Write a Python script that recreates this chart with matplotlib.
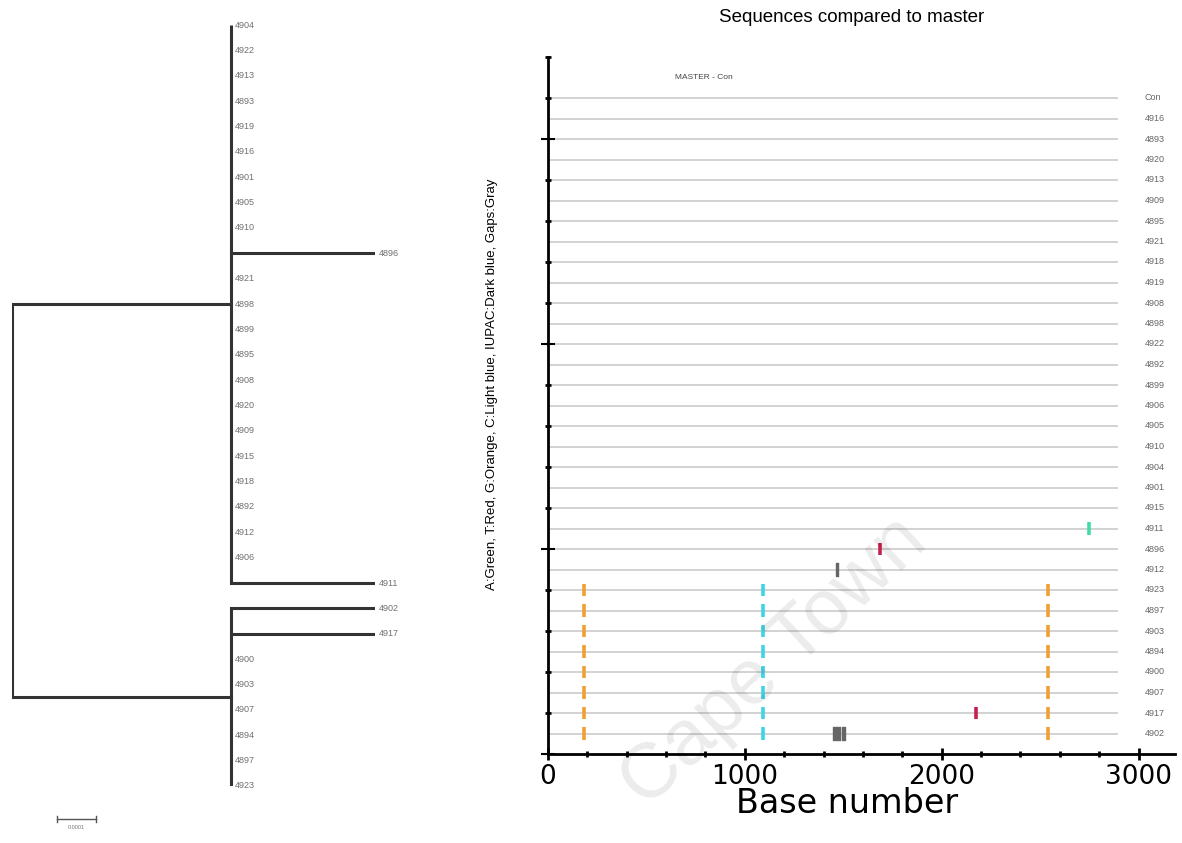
import matplotlib
matplotlib.use("Agg")
import matplotlib.pyplot as plt
from matplotlib.ticker import MultipleLocator

plt.rcParams['font.family'] = ['Liberation Sans', 'DejaVu Sans']

# dendrogram (leaf order top -> bottom)
tree_leaves = ['4904', '4922', '4913', '4893', '4919', '4916', '4901', '4905', '4910',
               '4896', '4921', '4898', '4899', '4895', '4908', '4920', '4909', '4915',
               '4918', '4892', '4912', '4906', '4911',
               '4902', '4917', '4900', '4903', '4907', '4894', '4897', '4923']
leaf_branch = [0, 0, 0, 0, 0, 0, 0, 0, 0,
               0.00037, 0, 0, 0, 0, 0, 0, 0, 0,
               0, 0, 0, 0, 0.00037,
               0.00037, 0.00037, 0, 0, 0, 0, 0, 0]
cluster_sizes = [23, 8]
node_depth = 0.00056
scale_len = 0.0001

# alignment rows (top -> bottom)
seq_names = ['Con', '4916', '4893', '4920', '4913', '4909', '4895', '4921', '4918', '4919',
             '4908', '4898', '4922', '4892', '4899', '4906', '4905', '4910', '4904', '4901',
             '4915', '4911', '4896', '4912', '4923', '4897', '4903', '4894', '4900', '4907',
             '4917', '4902']
seq_len = 2890
group_b = ['4923', '4897', '4903', '4894', '4900', '4907', '4917', '4902']

# differences: sequence, start, end, type
mut_seq = group_b * 3 + ['4917', '4911', '4896', '4912', '4902', '4902']
mut_start = [183] * 8 + [1093] * 8 + [2542] * 8 + [2176, 2750, 1688, 1465, 1449, 1495]
mut_end = [183] * 8 + [1093] * 8 + [2542] * 8 + [2176, 2750, 1688, 1475, 1485, 1509]
mut_type = ['G'] * 8 + ['C'] * 8 + ['G'] * 8 + ['T', 'A', 'T', 'Gap', 'Gap', 'Gap']

base_colors = {'A': '#3fdcaa', 'T': '#c8204e', 'G': '#f0a035', 'C': '#3fd4e6',
               'IUPAC': '#1a2a8a', 'Gap': '#666666'}

fig = plt.figure(figsize=(11.82, 8.43), dpi=100)

# ---- left: tree ----
axt = fig.add_axes([12 / 1182, 57 / 843, 363 / 1182, 761 / 843])
axt.set_xlim(0, node_depth + 0.00037)
axt.set_ylim(len(tree_leaves) - 1, 0)
axt.axis('off')
lc = '#333333'
lw = 2.2
mids = []
start = 0
for n in cluster_sizes:
    end = start + n - 1
    mid = (start + end) / 2
    mids.append(mid)
    axt.plot([node_depth, node_depth], [start, end], color=lc, lw=lw, solid_capstyle='butt')
    axt.plot([0, node_depth], [mid, mid], color=lc, lw=lw)
    start = end + 1
axt.plot([0, 0], [mids[0], mids[-1]], color=lc, lw=lw, solid_capstyle='butt')
for i, (name, b) in enumerate(zip(tree_leaves, leaf_branch)):
    if b > 0:
        axt.plot([node_depth, node_depth + b], [i, i], color=lc, lw=lw)
    axt.annotate(name, (node_depth + b, i), xytext=(3, 0), textcoords='offset points',
                 fontsize=6.5, color='#707070', va='center', ha='left', annotation_clip=False)
# scale bar
sb_y = len(tree_leaves) - 1 + 1.3
axt.plot([0.000115, 0.000115 + scale_len], [sb_y, sb_y], color='#555555', lw=1, clip_on=False)
axt.plot([0.000115, 0.000115], [sb_y - 0.1, sb_y + 0.1], color='#555555', lw=1, clip_on=False)
axt.plot([0.000115 + scale_len] * 2, [sb_y - 0.1, sb_y + 0.1], color='#555555', lw=1, clip_on=False)
axt.text(0.000115 + scale_len / 2, sb_y + 0.35, '0.0001', fontsize=4, color='#777777',
         ha='center', va='center', clip_on=False)

# ---- right: alignment overview ----
ax = fig.add_axes([548 / 1182, 89 / 843, 627 / 1182, 697 / 843])
ax.set_xlim(0, 3185)
ax.set_ylim(0, 34)
nrows = len(seq_names)
row_of = {name: nrows - i for i, name in enumerate(seq_names)}
for name, r in row_of.items():
    ax.plot([0, seq_len], [r, r], color='#cfcfcf', lw=1.3, zorder=1)
    ax.text(3030, r, name, fontsize=6.5, color='#666666', va='center', ha='left')

h = 0.3
for s, a, b, t in zip(mut_seq, mut_start, mut_end, mut_type):
    r = row_of[s]
    if a == b:
        ax.vlines(a, r - h, r + h, color=base_colors[t], lw=2.6, zorder=3)
    else:
        ax.broken_barh([(a, b - a)], (r - h, 2 * h), color=base_colors[t], zorder=3)

ax.text(792, 33.0, 'MASTER - Con', fontsize=6, color='#444444', ha='center', va='center')

for sp in ['top', 'right']:
    ax.spines[sp].set_visible(False)
ax.spines['left'].set_linewidth(2)
ax.spines['bottom'].set_linewidth(2)
ax.xaxis.set_major_locator(MultipleLocator(1000))
ax.xaxis.set_minor_locator(MultipleLocator(200))
ax.yaxis.set_major_locator(MultipleLocator(10))
ax.yaxis.set_minor_locator(MultipleLocator(2))
ax.tick_params(axis='x', which='major', length=8, width=2, direction='inout', labelsize=19, pad=3)
ax.tick_params(axis='x', which='minor', length=5, width=2, direction='inout')
ax.tick_params(axis='y', which='major', length=10, width=1.5, direction='inout', labelleft=False)
ax.tick_params(axis='y', which='minor', length=4, width=2, direction='inout')
for lab in ax.get_xticklabels():
    lab.set_family('DejaVu Sans')
ax.set_xlabel('Base number', fontsize=24, family='DejaVu Sans')
ax.xaxis.set_label_coords(0.477, -0.048)
ax.set_ylabel('A:Green, T:Red, G:Orange, C:Light blue, IUPAC:Dark blue, Gaps:Gray',
              fontsize=9.5)
ax.yaxis.set_label_coords(-0.08, 0.53)
ax.set_title('Sequences compared to master', fontsize=13.5, pad=25, x=0.485)

# watermark
fig.text(0.655, 0.215, 'Cape Town', fontsize=56, color='black', alpha=0.08,
         rotation=43, ha='center', va='center', zorder=10)

fig.savefig('out.png', dpi=100)
